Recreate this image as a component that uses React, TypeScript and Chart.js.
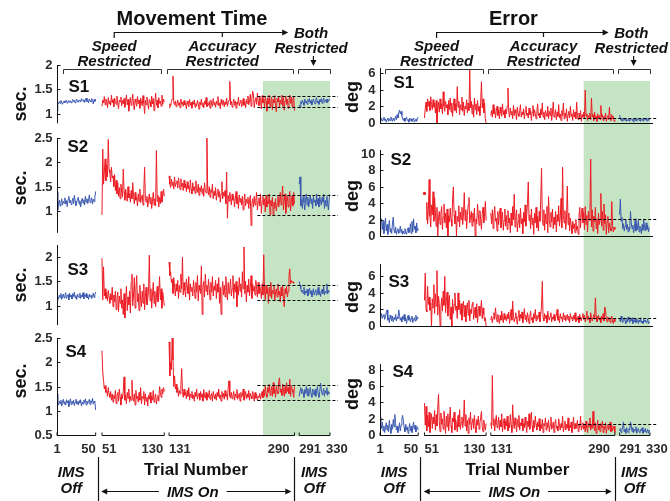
import React, { useEffect, useRef } from "react";
import { Chart, registerables } from "chart.js";

Chart.register(...registerables);

const FONT = '"Liberation Sans", Arial, Helvetica, sans-serif';
const INK = "#111111";
const TICK_INK = "#2b2b2b";
const RED = "#ec1c24";
const BLUE = "#3a58b0";
const SHADE = "#c4e4c3";
const FIG_W = 670;
const FIG_H = 501;

// Trial blocks: IMS off, speed restricted, accuracy restricted, IMS off again
const BLOCK_FIRST = [1, 51, 131, 291];
const BLOCK_LAST = [50, 130, 290, 330];
const BLOCK_SHIFT = [0, 7, 12, 17]; // gap left before each block on the x axis
const BLOCK_COLOR = [BLUE, RED, RED, BLUE];
const X_MIN = 1;
const X_MAX = 347;
const SHADE_FROM_TRIAL = 250;

const X_TICKS = [1, 50, 51, 130, 131, 290, 291, 330];
const X_TICK_ALIGN = ["center", "right", "left", "right", "left", "right", "left", "left"];
const X_TICK_NUDGE = [0, 0, 0, -1, 0, -5, 0, -4];

// ---- Movement time (sec.) per subject, one list per trial block ----
const mtS1 = [
  [1.05,1.22,1.20,1.25,1.21,1.27,1.23,1.19,1.24,1.26,
   1.22,1.25,1.28,1.21,1.24,1.27,1.23,1.26,1.22,1.25,
   1.29,1.24,1.27,1.22,1.26,1.30,1.25,1.23,1.28,1.26,
   1.24,1.31,1.27,1.25,1.29,1.23,1.27,1.32,1.25,1.28,
   1.22,1.30,1.26,1.24,1.31,1.27,1.20,1.29,1.25,1.30],
  [1.15,1.28,1.22,1.35,1.18,1.30,1.24,1.12,1.33,1.20,
   1.26,1.17,1.38,1.22,1.29,1.14,1.32,1.25,1.19,1.36,
   1.21,1.10,1.28,1.24,1.34,1.16,1.27,1.20,1.31,1.13,
   1.25,1.38,1.18,1.29,1.05,1.22,1.33,1.17,1.26,1.40,
   1.19,1.08,1.30,1.23,1.15,1.35,1.20,1.28,1.11,1.32,
   1.24,1.16,1.37,1.21,1.00,1.27,1.18,1.34,1.22,1.09,
   1.29,1.25,1.14,1.36,1.20,1.31,1.06,1.23,1.42,1.17,
   1.28,1.12,1.33,1.21,1.26,1.15,1.38,1.19,1.30,1.24],
  [1.12,1.20,1.15,1.25,1.30,1.77,1.22,1.18,1.26,1.14,
   1.21,1.28,1.17,1.23,1.12,1.30,1.19,1.24,1.15,1.27,
   1.18,1.22,1.10,1.26,1.20,1.14,1.29,1.17,1.23,1.11,
   1.25,1.19,1.28,1.13,1.21,1.16,1.27,1.20,1.09,1.24,
   1.18,1.30,1.15,1.22,1.12,1.26,1.19,1.33,1.14,1.21,
   1.17,1.25,1.11,1.28,1.20,1.15,1.31,1.18,1.23,1.13,
   1.26,1.19,1.35,1.16,1.22,1.10,1.29,1.21,1.17,1.27,
   1.14,1.24,1.19,1.32,1.15,1.22,1.28,1.66,1.18,1.25,
   1.13,1.21,1.30,1.17,1.26,1.11,1.24,1.19,1.34,1.16,
   1.23,1.28,1.14,1.20,1.31,1.17,1.25,1.12,1.29,1.21,
   1.36,1.18,1.26,1.40,1.15,1.30,1.46,1.38,1.12,1.27,
   1.33,1.19,1.42,1.24,1.16,1.35,1.28,1.10,1.37,1.22,
   1.30,1.14,1.36,1.25,1.05,1.32,1.20,1.38,1.13,1.27,
   1.34,1.08,1.29,1.22,1.37,1.16,1.04,1.31,1.24,1.35,
   1.12,1.28,1.20,1.38,1.15,1.33,1.07,1.26,1.36,1.19,
   1.30,1.11,1.27,1.38,1.21,1.34,1.14,1.29,1.35,1.06],
  [1.18,1.12,1.25,1.20,1.28,1.23,1.17,1.30,1.22,1.26,
   1.19,1.29,1.24,1.31,1.21,1.27,1.18,1.25,1.30,1.23,
   1.20,1.28,1.33,1.22,1.26,1.19,1.29,1.24,1.31,1.21,
   1.27,1.32,1.23,1.26,1.29,1.22,1.30,1.25,1.28,1.31],
];

const mtS2 = [
  [1.39,1.02,1.15,1.22,1.10,1.18,1.25,1.12,1.20,1.16,
   1.27,1.14,1.21,1.09,1.24,1.30,1.17,1.22,1.13,1.19,
   1.26,1.15,1.32,1.20,1.11,1.18,1.24,1.28,1.14,1.21,
   1.08,1.19,1.26,1.16,1.23,1.12,1.30,1.18,1.25,1.15,
   1.22,1.33,1.17,1.20,1.27,1.14,1.24,1.19,1.28,1.40],
  [0.92,2.27,1.55,1.80,2.07,1.62,1.95,1.70,2.47,1.85,
   1.78,1.60,1.90,1.68,1.72,1.50,1.75,1.42,1.63,1.35,
   1.58,1.30,1.48,1.25,1.55,1.38,1.28,1.86,1.40,1.22,
   1.45,1.32,1.20,1.50,1.27,1.36,1.18,1.42,1.25,1.58,
   1.30,1.15,1.38,1.22,1.28,1.10,1.35,1.20,1.45,1.17,
   1.26,1.33,1.12,1.40,1.90,1.25,1.18,1.30,1.08,1.22,
   1.35,1.15,1.28,1.05,1.20,1.38,1.12,1.25,1.10,2.24,
   1.20,1.32,1.08,1.28,1.15,1.40,1.18,1.30,1.45,1.30],
  [1.72,1.55,1.48,1.65,1.52,1.60,1.45,1.70,1.50,1.58,
   1.62,1.47,1.68,1.53,1.44,1.66,1.50,1.57,1.42,1.63,
   1.48,1.55,1.40,1.60,1.46,1.52,1.38,1.64,1.45,1.35,
   1.58,1.42,1.50,1.36,1.62,1.44,1.38,1.55,1.32,1.48,
   1.40,1.52,1.35,1.46,1.30,1.58,1.42,1.37,2.50,1.45,
   1.33,1.50,1.28,1.44,1.38,1.55,1.25,1.40,1.32,1.48,
   1.22,1.36,1.45,1.28,1.40,1.18,1.35,1.60,1.25,1.38,
   1.30,1.42,1.15,1.80,0.85,1.32,1.20,1.38,1.26,1.12,
   1.35,1.22,1.30,1.08,1.25,1.40,1.15,1.28,1.05,1.33,
   1.18,1.26,1.12,1.30,1.02,1.22,1.35,1.10,1.24,1.16,
   1.28,1.05,1.20,1.32,0.70,1.15,1.25,1.08,1.30,1.12,
   1.22,1.38,1.02,1.18,1.27,1.10,1.35,0.95,1.20,1.30,
   1.12,1.25,0.98,1.32,1.08,1.20,1.15,1.35,0.92,1.22,
   1.10,1.28,0.90,1.18,1.05,1.25,1.00,1.15,1.30,1.08,
   1.20,1.38,1.12,1.28,1.51,1.02,1.22,1.35,0.95,1.18,
   1.30,1.08,1.25,1.40,1.00,1.20,1.32,1.10,1.38,1.15],
  [1.55,1.70,1.10,1.25,1.05,1.30,1.18,1.02,1.22,1.35,
   1.12,1.28,1.08,1.20,1.32,1.15,1.25,1.05,1.30,1.18,
   1.22,1.10,1.35,1.14,1.26,1.08,1.30,1.20,1.12,1.28,
   1.18,1.34,1.05,1.22,1.10,1.30,1.15,1.02,1.25,1.35],
];

const mtS3 = [
  [1.10,1.18,1.14,1.22,1.17,1.25,1.13,1.20,1.24,1.16,
   1.21,1.27,1.15,1.19,1.23,1.12,1.26,1.18,1.22,1.14,
   1.25,1.19,1.28,1.16,1.21,1.13,1.24,1.20,1.17,1.26,
   1.15,1.22,1.18,1.27,1.14,1.23,1.19,1.25,1.16,1.21,
   1.13,1.24,1.18,1.22,1.15,1.20,1.26,1.17,1.23,1.28],
  [1.98,1.12,1.80,1.20,1.35,1.15,1.28,1.10,1.32,1.18,
   1.05,1.25,1.12,1.38,0.98,1.22,1.08,1.30,0.92,1.15,
   1.28,0.88,1.20,1.05,1.35,0.95,1.12,0.82,1.25,0.75,
   1.10,1.40,0.90,1.18,1.02,1.30,0.85,1.48,1.65,1.00,
   1.22,1.58,0.95,1.35,1.62,1.08,1.25,0.90,1.42,1.12,
   0.98,1.30,1.05,1.45,0.92,1.20,1.38,1.02,1.15,1.28,
   2.04,1.10,1.35,0.95,1.22,1.48,1.05,1.30,0.98,1.18,
   1.40,1.08,1.25,1.60,1.12,1.35,0.95,1.28,1.15,1.00],
  [1.90,1.62,1.70,1.48,1.55,1.25,1.58,1.38,1.20,1.45,
   1.30,1.52,1.15,1.42,1.28,1.65,1.35,2.00,1.22,1.48,
   1.32,1.18,1.55,1.40,1.25,1.60,1.12,1.45,1.30,1.38,
   1.20,1.52,1.35,1.15,1.48,1.28,1.62,1.10,1.42,1.33,
   1.25,1.82,0.82,1.38,1.50,1.18,1.65,1.30,1.42,1.22,
   1.55,1.35,1.12,1.48,1.28,1.60,1.20,1.40,1.32,1.52,
   1.15,1.45,1.28,1.58,1.05,1.38,0.82,1.30,1.50,1.22,
   1.42,1.18,1.60,1.32,1.12,1.48,1.25,1.38,1.55,1.20,
   1.35,1.62,1.15,1.45,1.28,1.50,0.98,1.40,1.22,1.58,
   1.30,1.45,1.18,1.70,1.35,2.21,1.25,1.50,1.08,1.42,
   1.28,1.55,1.20,1.38,1.62,1.15,1.45,1.30,1.40,1.22,
   1.52,1.35,1.18,1.48,1.25,1.40,1.32,1.15,1.45,1.22,
   2.05,1.30,1.12,1.42,1.25,1.35,1.05,1.38,1.20,1.48,
   1.15,1.32,1.25,1.40,1.10,1.28,1.35,1.18,1.45,1.22,
   1.30,1.08,1.38,1.20,1.42,1.15,0.98,1.35,1.25,1.40,
   1.18,1.30,1.62,1.76,1.45,1.52,1.48,1.50,1.46,1.48],
  [1.50,1.42,1.35,1.28,1.32,1.25,1.38,1.22,1.30,1.26,
   1.34,1.20,1.28,1.36,1.24,1.31,1.18,1.27,1.35,1.22,
   1.29,1.33,1.21,1.26,1.38,1.23,1.30,1.19,1.28,1.34,
   1.25,1.40,1.22,1.30,1.27,1.45,1.24,1.32,1.28,1.30],
];

const mtS4 = [
  [1.35,1.18,1.12,1.20,1.15,1.22,1.10,1.18,1.24,1.14,
   1.19,1.12,1.23,1.16,1.21,1.09,1.17,1.25,1.13,1.20,
   1.15,1.22,1.11,1.18,1.24,1.14,1.19,1.12,1.21,1.16,
   1.23,1.10,1.18,1.14,1.22,1.17,1.25,1.12,1.20,1.15,
   1.19,1.24,1.13,1.21,1.17,1.26,1.14,1.20,1.18,1.02],
  [2.24,1.80,1.62,1.45,1.52,1.38,1.42,1.30,1.48,1.35,
   1.28,1.40,1.22,1.35,1.18,1.32,1.25,1.42,1.15,1.30,
   1.38,1.20,1.45,1.28,1.12,1.35,1.25,1.40,1.70,1.22,
   1.32,1.15,1.38,1.26,1.45,1.18,1.30,1.22,1.63,1.28,
   1.20,1.35,1.12,1.42,1.25,1.30,1.18,1.38,1.22,1.48,
   1.15,1.30,1.25,1.40,1.12,1.35,1.20,1.28,1.10,1.32,
   1.24,1.38,1.16,1.30,1.22,1.42,1.18,1.28,1.35,1.14,
   1.25,1.32,1.20,1.50,1.38,1.28,1.45,1.35,1.48,1.40],
  [2.42,1.72,2.00,1.85,2.50,2.05,1.50,1.72,1.45,1.55,
   1.38,1.48,1.30,1.42,1.35,1.52,1.87,1.40,1.28,1.45,
   1.32,1.38,1.25,1.42,1.30,1.48,1.22,1.35,1.28,1.40,
   1.25,1.33,1.20,1.38,1.30,1.45,1.24,1.32,1.36,1.22,
   1.40,1.28,1.35,1.20,1.44,1.30,1.26,1.38,1.22,1.34,
   1.28,1.42,1.24,1.32,1.36,1.20,1.40,1.30,1.25,1.35,
   1.22,1.38,1.30,1.45,1.26,1.33,1.20,1.40,1.28,1.36,
   1.24,1.42,1.30,1.35,1.22,1.48,1.62,1.30,1.26,1.38,
   1.25,1.32,1.40,1.22,1.35,1.28,1.44,1.24,1.30,1.36,
   1.20,1.38,1.28,1.33,1.45,1.22,1.30,1.40,1.25,1.35,
   1.28,1.42,1.22,1.36,1.30,1.25,1.40,1.32,1.20,1.38,
   1.26,1.34,1.22,1.30,1.28,1.36,1.24,1.32,1.40,1.27,
   1.45,1.30,1.52,1.35,1.28,1.48,1.38,1.55,1.32,1.42,
   1.50,1.30,1.58,1.36,1.45,1.28,1.52,1.40,1.35,1.60,
   1.68,1.38,1.45,1.32,1.55,1.42,1.30,1.50,1.36,1.58,
   1.40,1.48,1.35,1.65,1.30,1.52,1.44,1.38,1.28,1.50],
  [1.30,1.42,1.48,1.35,1.45,1.38,1.28,1.44,1.36,1.50,
   1.32,1.46,1.30,1.40,1.48,1.34,1.28,1.45,1.38,1.32,
   1.44,1.30,1.42,1.50,1.35,1.28,1.40,1.57,1.45,1.33,
   1.38,1.46,1.30,1.42,1.36,1.48,1.32,1.40,1.35,1.38],
];

// ---- Pointing error (deg) per subject, one list per trial block ----
const errS1 = [
  [0.5,0.3,0.6,0.2,0.4,0.7,0.3,0.5,0.1,0.4,
   0.6,0.2,0.5,0.3,0.7,0.4,0.2,0.6,0.3,0.5,
   0.8,0.4,1.0,0.6,1.2,1.55,1.1,1.4,0.9,0.5,
   0.3,0.6,0.2,0.5,0.7,0.3,0.4,0.1,0.6,0.3,
   0.5,0.2,0.4,0.6,0.1,0.3,0.5,0.2,0.6,0.7],
  [0.6,1.8,2.5,1.4,2.9,2.0,2.6,1.5,3.15,2.2,
   1.6,2.8,1.9,2.4,1.2,2.7,0.0,1.8,2.5,1.3,
   2.9,1.7,2.3,1.1,3.75,2.0,1.4,2.6,1.8,2.2,
   1.0,2.7,1.6,3.0,1.3,2.4,0.8,2.1,2.9,1.5,
   2.3,1.2,4.35,1.9,2.6,1.0,2.2,1.6,3.1,1.4,
   2.5,0.9,2.0,1.7,2.8,1.2,2.4,1.5,6.35,1.8,
   2.6,1.1,2.2,0.7,3.0,1.6,2.3,1.0,2.7,1.4,
   2.0,0.9,2.5,4.95,1.8,2.9,1.2,2.4,0.5,0.0],
  [0.9,1.5,0.7,2.2,1.1,1.8,0.6,1.4,2.0,0.9,
   1.6,0.5,1.9,1.2,0.8,2.3,1.0,1.5,0.6,1.7,
   1.1,2.0,4.2,1.3,0.7,1.8,1.0,1.4,0.5,2.1,
   0.9,1.6,1.2,0.4,1.9,1.1,0.8,1.5,2.2,0.7,
   1.3,1.0,1.7,0.5,1.4,2.0,0.9,1.2,0.6,1.8,
   1.0,1.5,0.3,1.3,2.1,0.8,1.6,1.1,0.5,1.4,
   2.3,0.9,1.2,0.6,1.7,1.0,2.4,0.7,1.3,0.4,
   1.5,1.1,0.8,2.0,0.5,1.4,0.9,1.8,0.3,1.2,
   2.5,0.7,1.0,1.6,0.4,1.3,0.8,2.2,0.6,1.1,
   0.3,1.5,0.9,2.4,0.5,1.2,0.7,1.7,0.2,1.0,
   1.4,0.6,2.0,0.8,1.1,0.3,1.6,0.7,1.3,0.5,
   2.5,0.9,0.4,1.2,0.6,1.5,0.2,1.0,0.7,1.3,
   0.5,3.95,0.8,1.1,0.3,0.9,0.6,1.2,0.4,3.0,
   0.7,1.0,0.3,1.3,0.5,0.8,0.2,1.1,0.6,0.9,
   0.4,2.1,0.7,1.0,0.3,0.8,0.5,1.2,0.2,0.6,
   0.9,0.4,1.9,0.6,0.3,1.0,0.5,0.8,0.2,0.4],
  [0.95,0.5,0.3,0.6,0.2,0.4,0.5,0.3,0.6,0.2,
   0.4,0.3,0.5,0.2,0.6,0.4,0.3,0.5,0.1,0.4,
   0.6,0.3,0.2,0.5,0.4,0.3,0.6,0.2,0.4,0.5,
   0.3,0.2,0.5,0.4,0.6,0.3,0.2,0.4,0.5,0.3],
];

const errS2: (number | null)[][] = [
  [0.4,1.5,2.1,0.8,1.8,0.3,1.2,2.2,0.6,1.4,
   0.2,1.0,1.9,0.5,0.9,0.3,1.6,2.3,0.7,0.4,
   1.1,0.2,0.6,0.9,0.3,0.5,1.2,0.4,0.8,0.2,
   0.6,0.3,0.9,0.5,0.2,0.7,1.0,0.4,0.6,1.5,
   0.3,1.8,0.5,2.1,0.8,1.2,0.4,1.6,0.6,0.9],
  [5.2,null,2.0,4.1,1.5,3.2,6.9,2.4,1.1,3.8,
   2.6,5.4,1.8,4.7,2.9,1.2,3.5,0.0,2.2,3.0,
   1.4,2.7,3.6,0.8,2.3,3.9,1.6,2.8,1.0,3.3,
   0.0,2.5,1.7,3.4,2.0,1.2,4.4,6.0,2.6,1.5,
   3.1,0.0,2.4,1.8,3.7,1.1,2.9,2.0,3.5,1.4,
   2.7,5.3,1.9,3.2,0.9,2.5,3.8,4.7,1.6,2.3,
   3.0,1.2,2.8,1.7,3.4,0.0,2.1,1.5,3.9,2.6,
   1.3,3.1,2.0,0.8,2.7,3.5,1.6,2.4,4.2,1.9],
  [2.8,1.5,3.2,0.9,2.4,3.6,1.8,2.2,0.6,3.0,
   1.4,2.6,3.4,1.0,2.0,2.9,0.7,1.9,3.3,1.2,
   2.5,0.8,3.1,1.6,2.2,0.4,2.8,1.3,3.6,2.0,
   5.1,1.1,2.4,3.2,0.5,1.8,2.7,1.0,3.4,1.5,
   2.1,0.3,2.9,1.7,3.8,1.2,2.5,4.0,6.6,1.9,
   2.6,0.9,3.3,1.4,2.2,0.2,2.8,1.6,3.5,1.0,
   2.4,0.6,3.0,1.8,4.5,8.3,2.1,1.3,3.2,0.7,
   2.7,1.5,3.6,0.4,4.8,2.0,1.1,2.9,1.7,3.3,
   0.9,2.3,1.4,3.0,0.5,2.6,1.8,3.7,1.2,2.2,
   4.6,1.0,8.4,2.5,1.6,3.1,0.8,2.0,6.1,1.4,
   2.8,0.6,2.2,1.3,0.3,1.8,0.9,1.5,0.4,2.0,
   0.7,1.2,0.2,2.4,3.5,1.0,2.8,3.4,1.6,2.9,
   0.8,3.6,1.4,2.5,0.5,3.0,1.9,2.2,9.4,1.1,
   3.2,0.6,2.4,1.7,3.5,0.9,2.1,0.3,2.8,1.4,
   2.0,5.2,1.2,3.0,0.7,3.9,1.5,2.6,0.2,1.8,
   2.4,0.4,1.6,1.0,0.6,4.2,1.3,0.5,1.1,0.8],
  [2.6,4.5,1.8,2.3,0.9,1.5,0.6,1.2,2.0,0.8,
   1.4,0.5,1.1,0.7,3.0,1.6,0.9,1.3,0.4,1.0,
   2.1,0.6,1.5,0.8,1.9,0.5,1.2,0.9,0.3,1.4,
   0.7,2.0,1.1,0.6,1.6,0.8,1.3,0.5,1.0,0.9],
];

const errS3 = [
  [1.3,1.1,1.5,0.9,1.2,1.4,0.8,1.1,1.6,1.95,
   0.7,1.0,0.4,1.3,0.9,0.6,1.2,0.5,1.0,0.8,
   1.4,0.6,1.1,0.9,1.95,1.3,0.7,1.0,0.5,1.2,
   0.8,1.4,0.6,1.0,0.3,0.9,1.3,0.7,1.1,0.5,
   0.9,1.2,0.4,0.8,1.0,0.6,1.3,0.7,1.1,0.9],
  [3.1,6.4,2.0,1.7,4.8,2.6,3.5,1.9,2.8,0.0,
   3.3,2.2,5.0,1.5,3.9,2.4,6.7,1.3,3.6,2.7,
   0.0,2.1,3.4,1.8,4.2,2.5,6.0,1.6,3.0,4.1,
   1.2,2.9,3.7,0.8,2.3,0.0,3.2,1.5,2.6,4.0,
   1.9,2.4,0.9,4.0,2.0,3.1,1.4,2.7,0.7,2.2,
   3.0,1.1,2.5,0.5,1.9,2.8,1.3,3.1,0.6,2.0,
   1.5,2.6,2.9,0.8,1.7,2.3,1.0,2.7,0.4,1.8,
   2.4,1.2,2.0,3.1,0.9,2.2,1.4,0.6,1.0,0.0],
  [0.7,1.2,0.4,1.0,1.6,0.8,2.2,1.1,0.5,1.4,
   0.9,0.3,1.3,0.7,1.8,1.0,0.4,1.5,0.8,1.2,
   0.6,1.4,0.9,1.7,0.3,1.1,2.0,0.7,3.0,1.3,
   0.5,1.0,1.6,0.8,0.2,1.2,1.9,0.6,1.4,0.9,
   1.7,0.4,1.1,2.1,0.8,1.3,0.5,1.6,1.0,0.3,
   1.2,1.8,0.7,1.0,0.4,1.5,0.9,2.0,0.6,1.3,
   0.8,1.1,1.7,0.5,1.4,2.4,5.4,1.0,0.6,1.5,
   0.9,1.3,0.4,1.8,1.0,0.7,1.2,1.6,0.5,1.1,
   0.8,1.4,0.6,1.0,1.3,2.0,0.7,1.2,0.4,1.5,
   0.9,1.1,0.5,1.6,0.8,1.3,0.6,1.0,1.4,0.7,
   1.2,0.4,1.5,0.9,1.1,0.6,1.3,0.8,1.6,0.5,
   1.0,0.7,1.2,0.4,1.4,0.9,0.6,1.1,1.5,0.8,
   1.3,0.5,1.0,1.8,0.7,1.2,0.9,0.4,1.6,1.0,
   0.6,1.1,1.4,0.8,3.4,1.2,0.5,0.9,1.3,0.7,
   1.0,0.4,1.2,0.8,1.5,0.6,2.3,1.9,0.9,0.5,
   1.1,0.7,1.0,0.4,0.8,1.2,0.6,0.3,0.9,0.5],
  [0.9,0.5,1.2,0.7,0.4,0.8,1.0,0.6,0.3,0.9,
   0.5,1.1,0.7,0.4,0.8,0.6,1.0,0.3,0.7,0.5,
   0.9,0.4,0.6,0.8,0.3,0.7,0.5,1.0,0.4,0.6,
   0.3,0.8,0.5,0.7,0.4,0.6,0.9,0.3,0.5,0.4],
];

const errS4 = [
  [2.2,1.4,0.8,1.6,0.5,1.1,0.3,0.9,1.5,0.6,
   1.2,0.4,1.8,0.9,0.2,1.3,0.7,1.9,1.0,2.5,
   1.4,0.6,1.1,0.3,0.8,1.5,0.5,1.2,2.0,2.4,
   1.7,0.9,0.4,1.3,0.6,1.0,0.2,0.8,1.4,0.5,
   1.1,0.3,0.9,1.6,0.7,1.2,0.4,0.8,1.0,0.6],
  [3.9,1.2,3.5,0.5,2.4,1.0,2.8,0.3,1.9,2.6,
   0.8,2.2,1.4,3.0,0.6,2.5,1.1,3.2,5.0,1.6,
   0.4,2.7,1.3,2.0,0.7,2.9,1.5,0.2,2.3,1.0,
   2.6,0.5,1.8,3.4,1.2,0.3,2.1,1.6,2.8,0.6,
   1.9,1.3,0.4,2.4,1.0,3.1,0.7,1.5,2.2,0.9,
   1.7,4.3,1.1,2.5,0.5,1.8,0.2,2.1,1.3,2.8,
   0.6,1.6,2.0,0.8,2.4,1.0,0.3,1.9,1.2,2.3,
   0.7,1.5,2.1,2.9,1.0,0.4,1.8,1.2,0.6,1.4],
  [1.5,0.8,7.3,1.2,2.0,0.5,1.6,2.4,0.9,1.3,
   2.2,0.6,1.8,1.0,2.6,0.4,1.4,2.0,0.7,1.7,
   1.1,2.3,0.5,1.5,0.9,2.5,1.2,0.3,3.7,1.6,
   0.8,2.1,1.3,0.4,1.9,1.0,2.4,0.6,1.5,1.1,
   2.0,0.5,1.4,0.9,2.2,1.2,0.3,1.7,1.0,2.6,
   0.7,1.5,2.8,1.1,0.4,1.8,0.9,2.3,1.3,0.6,
   1.6,1.0,2.0,0.5,1.3,0.8,1.9,0.3,1.4,1.1,
   2.1,0.6,1.5,0.9,1.8,0.4,1.2,2.2,0.7,1.0,
   1.6,0.3,1.3,1.9,0.8,1.1,0.5,2.0,1.2,0.6,
   1.4,0.9,2.3,0.4,1.0,1.7,0.6,1.3,0.8,2.1,
   0.5,1.2,0.9,1.6,0.3,1.0,2.2,0.7,1.4,0.8,
   1.1,1.8,0.4,1.3,0.9,2.3,0.6,1.0,1.5,0.7,
   1.2,0.4,1.7,0.9,0.3,1.4,1.0,2.1,0.6,1.3,
   0.8,2.9,1.1,0.5,1.5,0.2,1.0,1.8,0.6,1.2,
   0.4,1.4,0.9,1.7,0.3,1.1,0.7,1.5,0.2,1.0,
   1.3,0.6,0.9,1.6,0.4,1.2,0.5,0.8,1.1,0.3],
  [0.5,0.8,0.3,0.6,1.0,1.6,0.4,0.7,0.2,0.9,
   0.5,0.3,0.8,0.6,1.6,1.2,0.4,0.9,0.3,0.7,
   0.5,1.0,0.2,0.6,0.8,0.4,0.3,0.7,0.5,0.9,
   0.2,0.6,0.4,0.8,0.3,0.5,0.7,0.2,0.6,0.4],
];

// Reference levels (dashed) for the final blocks
const mtLimits = [[1.14, 1.36], [0.92, 1.335], [1.11, 1.42], [1.23, 1.54]];
const errLimits = [[0.56], [2.1], [1.0], [1.38]];

// Axis ranges and tick values per subject
const mtRanges = [[0.8, 2], [0.55, 2.5], [0.6, 2.25], [0.5, 2.5]];
const mtTicks = [[1, 1.5, 2], [1, 1.5, 2, 2.5], [1, 1.5, 2], [0.5, 1, 1.5, 2, 2.5]];
const errRanges = [[0, 6.6], [0, 10.5], [0, 7.5], [0, 8.7]];
const errTicks = [[0, 2, 4, 6], [0, 2, 4, 6, 8, 10], [0, 2, 4, 6], [0, 2, 4, 6, 8]];
const subjects = ["S1", "S2", "S3", "S4"];

// ---- Layout (page pixels) ----
const AREA_TOP = 60;
const AREA_BOTTOM = 440;
const MT_BANDS = [[65, 123.3], [138, 232.8], [245, 325.2], [338, 435.2]];
const ERR_BANDS = [[68, 123], [150, 236], [264, 326], [364, 435]];
const MT_NAME_AT = [[11, 92], [10, 152], [10, 275], [8, 357]];
const ERR_NAME_AT = [[13, 88], [10, 165], [8, 287], [12, 377]];
const MT_UNIT_Y = [104, 188, 285, 381];
const ERR_UNIT_Y = [97, 196, 297, 394];
const SHADE_TOP = 81;

// Header / footer anchors in x-axis units
const TITLE_X = 172;
const SPEED_X = 73.5;
const ACCURACY_X = 210.5;
const BOTH_X = 323;
const DOWN_X = 326;
const ARROW_END_X = 294;
const BRACKETS = [[8, 133], [140, 300], [306, 347]];
const DASH_FROM_X = 255;
const DASH_TO_X = 357;
const TRIAL_X = 177;
const IMS_OFF_X = [19, 327];
const DIVIDER_X = [52.7, 302];
const IMS_ON_X = 173;
const IMS_ON_ARROW = [57, 298];

function xPos(trial: number) {
  let b = 0;
  for (let i = 0; i < BLOCK_FIRST.length; i++) if (trial >= BLOCK_FIRST[i]) b = i;
  return trial + BLOCK_SHIFT[b];
}

type Panel = {
  name: string;
  blocks: (number | null)[][];
  range: number[];
  ticks: number[];
  band: number[];
  limits: number[];
  nameAt: number[];
  unitY: number;
};

type Column = {
  title: string;
  unit: string;
  left: number;
  width: number;
  axisLeft: number;
  axisRight: number;
  unitX: number;
  zeroLine: boolean;
  panels: Panel[];
};

const COLUMNS: Column[] = [
  {
    title: "Movement Time", unit: "sec.", left: 0, width: 352, axisLeft: 57, axisRight: 330,
    unitX: 21, zeroLine: false,
    panels: [mtS1, mtS2, mtS3, mtS4].map((blocks, i) => ({
      name: subjects[i], blocks, range: mtRanges[i], ticks: mtTicks[i], band: MT_BANDS[i],
      limits: mtLimits[i], nameAt: MT_NAME_AT[i], unitY: MT_UNIT_Y[i],
    })),
  },
  {
    title: "Error", unit: "deg", left: 340, width: 330, axisLeft: 40, axisRight: 310,
    unitX: 13, zeroLine: true,
    panels: [errS1, errS2, errS3, errS4].map((blocks, i) => ({
      name: subjects[i], blocks, range: errRanges[i], ticks: errTicks[i], band: ERR_BANDS[i],
      limits: errLimits[i], nameAt: ERR_NAME_AT[i], unitY: ERR_UNIT_Y[i],
    })),
  },
];

function text(ctx: CanvasRenderingContext2D, s: string, x: number, y: number, font: string,
  align: CanvasTextAlign = "center", baseline: CanvasTextBaseline = "alphabetic", color = INK) {
  ctx.font = font;
  ctx.textAlign = align;
  ctx.textBaseline = baseline;
  ctx.fillStyle = color;
  ctx.fillText(s, x, y);
}

function seg(ctx: CanvasRenderingContext2D, x0: number, y0: number, x1: number, y1: number) {
  ctx.beginPath();
  ctx.moveTo(x0, y0);
  ctx.lineTo(x1, y1);
  ctx.stroke();
}

function head(ctx: CanvasRenderingContext2D, x: number, y: number, dir: "left" | "right" | "down") {
  const L = 6, W = 3;
  ctx.beginPath();
  if (dir === "right") { ctx.moveTo(x, y); ctx.lineTo(x - L, y - W); ctx.lineTo(x - L, y + W); }
  if (dir === "left") { ctx.moveTo(x, y); ctx.lineTo(x + L, y - W); ctx.lineTo(x + L, y + W); }
  if (dir === "down") { ctx.moveTo(x, y); ctx.lineTo(x - W, y - L); ctx.lineTo(x + W, y - L); }
  ctx.closePath();
  ctx.fill();
}

function columnPlugin(col: Column) {
  return {
    id: "panelDecor",
    beforeDatasetsDraw(chart: any) {
      const ctx: CanvasRenderingContext2D = chart.ctx;
      const xs = chart.scales.x;
      const last = col.panels[col.panels.length - 1];
      const x0 = xs.getPixelForValue(xPos(SHADE_FROM_TRIAL));
      const x1 = xs.getPixelForValue(X_MAX);
      ctx.save();
      ctx.fillStyle = SHADE;
      ctx.fillRect(x0, SHADE_TOP, x1 - x0, last.band[1] + 1 - SHADE_TOP);
      ctx.restore();
    },
    afterDatasetsDraw(chart: any) {
      const ctx: CanvasRenderingContext2D = chart.ctx;
      const xs = chart.scales.x;
      const px = (v: number) => xs.getPixelForValue(v);
      const axisX = Math.round(chart.chartArea.left) + 0.5;
      ctx.save();

      // dashed reference levels
      ctx.strokeStyle = "#000";
      ctx.lineWidth = 1;
      ctx.setLineDash([3, 2]);
      col.panels.forEach((p, i) => {
        const ys = chart.scales["y" + i];
        p.limits.forEach((v) => {
          const y = Math.round(ys.getPixelForValue(v)) + 0.5;
          seg(ctx, px(DASH_FROM_X), y, px(DASH_TO_X), y);
        });
      });
      ctx.setLineDash([]);

      // y axes, ticks and labels
      const tickFont = `bold 13px ${FONT}`;
      col.panels.forEach((p, i) => {
        const ys = chart.scales["y" + i];
        const top = ys.getPixelForValue(p.range[1]);
        const bot = ys.getPixelForValue(p.range[0]);
        ctx.strokeStyle = INK;
        ctx.lineWidth = 1;
        seg(ctx, axisX, top, axisX, bot);
        p.ticks.forEach((t) => {
          const y = Math.round(ys.getPixelForValue(t)) + 0.5;
          seg(ctx, axisX, y, axisX + 3, y);
          text(ctx, String(t), axisX - 5, y, tickFont, "right", "middle", TICK_INK);
        });
        if (col.zeroLine && i < col.panels.length - 1) {
          const y0 = Math.round(ys.getPixelForValue(0)) + 0.5;
          ctx.lineWidth = 1.2;
          seg(ctx, px(X_MIN), y0, px(X_MAX) + 3, y0);
        }
        text(ctx, p.name, axisX + p.nameAt[0], p.nameAt[1], `bold 17px ${FONT}`, "left");
        ctx.save();
        ctx.translate(col.unitX, p.unitY);
        ctx.rotate(-Math.PI / 2);
        text(ctx, col.unit, 0, 0, `bold 18px ${FONT}`, "center", "middle");
        ctx.restore();
      });

      // segmented trial axis under the last panel
      const lastIdx = col.panels.length - 1;
      const yb = Math.round(chart.scales["y" + lastIdx].getPixelForValue(col.panels[lastIdx].range[0])) + 0.5;
      ctx.strokeStyle = INK;
      ctx.lineWidth = 1;
      BLOCK_FIRST.forEach((first, b) => {
        const a = px(xPos(first));
        const e = px(xPos(BLOCK_LAST[b]));
        seg(ctx, a, yb, e, yb);
        seg(ctx, a, yb, a, yb - 3);
        seg(ctx, e, yb, e, yb - 3);
      });
      X_TICKS.forEach((t, k) => {
        text(ctx, String(t), px(xPos(t)) + X_TICK_NUDGE[k], 453, tickFont,
          X_TICK_ALIGN[k] as CanvasTextAlign, "alphabetic", TICK_INK);
      });

      // header: title, phase arrow, phase names, brackets
      text(ctx, col.title, px(TITLE_X), 25, `bold 20px ${FONT}`);
      ctx.strokeStyle = INK;
      ctx.fillStyle = INK;
      ctx.lineWidth = 1.2;
      seg(ctx, px(SPEED_X), 32.5, px(ARROW_END_X) - 5, 32.5);
      seg(ctx, px(SPEED_X), 32, px(SPEED_X), 38);
      seg(ctx, px(ACCURACY_X), 32, px(ACCURACY_X), 37);
      head(ctx, px(ARROW_END_X), 32.5, "right");
      const phaseFont = `italic bold 15px ${FONT}`;
      text(ctx, "Speed", px(SPEED_X), 51, phaseFont);
      text(ctx, "Restricted", px(SPEED_X), 66, phaseFont);
      text(ctx, "Accuracy", px(ACCURACY_X), 51, phaseFont);
      text(ctx, "Restricted", px(ACCURACY_X), 66, phaseFont);
      text(ctx, "Both", px(BOTH_X), 38, phaseFont);
      text(ctx, "Restricted", px(BOTH_X), 53, phaseFont);
      ctx.strokeStyle = INK;
      ctx.fillStyle = INK;
      ctx.lineWidth = 1.2;
      seg(ctx, px(DOWN_X), 56, px(DOWN_X), 62);
      head(ctx, px(DOWN_X), 66, "down");
      ctx.strokeStyle = "#333";
      ctx.lineWidth = 1;
      BRACKETS.forEach(([a, b]) => {
        const xa = Math.round(px(a)) + 0.5;
        const xb = Math.round(px(b)) + 0.5;
        ctx.beginPath();
        ctx.moveTo(xa, 74);
        ctx.lineTo(xa, 69.5);
        ctx.lineTo(xb, 69.5);
        ctx.lineTo(xb, 74);
        ctx.stroke();
      });

      // footer: axis name, IMS state
      text(ctx, "Trial Number", px(TRIAL_X), 475, `bold 17px ${FONT}`);
      IMS_OFF_X.forEach((v) => {
        text(ctx, "IMS", px(v), 477, phaseFont);
        text(ctx, "Off", px(v), 493, phaseFont);
      });
      ctx.strokeStyle = INK;
      ctx.lineWidth = 1.2;
      DIVIDER_X.forEach((v) => {
        const x = Math.round(px(v)) + 0.5;
        seg(ctx, x, 457, x, FIG_H);
      });
      const cx = px(IMS_ON_X);
      ctx.font = phaseFont;
      const w = ctx.measureText("IMS On").width;
      text(ctx, "IMS On", cx, 497, phaseFont);
      ctx.strokeStyle = INK;
      ctx.fillStyle = INK;
      ctx.lineWidth = 1.2;
      const xl = px(IMS_ON_ARROW[0]);
      const xr = px(IMS_ON_ARROW[1]);
      seg(ctx, xl + 4, 491.5, cx - w / 2 - 8, 491.5);
      seg(ctx, cx + w / 2 + 8, 491.5, xr - 4, 491.5);
      head(ctx, xl, 491.5, "left");
      head(ctx, xr, 491.5, "right");

      ctx.restore();
    },
  };
}

function buildConfig(col: Column): any {
  const scales: any = {
    x: { type: "linear", display: false, min: X_MIN, max: X_MAX, bounds: "data" },
  };
  const datasets: any[] = [];
  col.panels.forEach((p, i) => {
    const [lo, hi] = p.range;
    const [top, bot] = p.band;
    const u = (hi - lo) / (bot - top);
    scales["y" + i] = {
      type: "linear", display: false, bounds: "data",
      min: lo - (AREA_BOTTOM - bot) * u,
      max: hi + (top - AREA_TOP) * u,
    };
    p.blocks.forEach((vals, b) => {
      datasets.push({
        label: `${p.name} block ${b + 1}`,
        data: vals.map((v, k) => ({ x: xPos(BLOCK_FIRST[b] + k), y: v })),
        xAxisID: "x",
        yAxisID: "y" + i,
        borderColor: BLOCK_COLOR[b],
        backgroundColor: BLOCK_COLOR[b],
        borderWidth: 1,
        tension: 0,
        spanGaps: false,
        fill: false,
        pointBorderWidth: 0,
        pointRadius: (c: any) => {
          const d = c.dataset.data;
          const k = c.dataIndex;
          const here = d[k] && d[k].y != null;
          const prev = k > 0 && d[k - 1].y != null;
          const next = k < d.length - 1 && d[k + 1].y != null;
          return here && !prev && !next ? 1.6 : 0;
        },
      });
    });
  });
  return {
    type: "line",
    data: { datasets },
    options: {
      animation: false,
      responsive: false,
      devicePixelRatio: 1,
      events: [],
      layout: {
        padding: {
          left: col.axisLeft,
          right: col.width - col.axisRight,
          top: AREA_TOP,
          bottom: FIG_H - AREA_BOTTOM,
        },
      },
      scales,
      plugins: { legend: { display: false }, tooltip: { enabled: false }, title: { display: false } },
    },
    plugins: [columnPlugin(col)],
  };
}

function ColumnChart({ col }: { col: Column }) {
  const ref = useRef<HTMLCanvasElement>(null);
  useEffect(() => {
    const chart = new Chart(ref.current as HTMLCanvasElement, buildConfig(col));
    return () => chart.destroy();
  }, [col]);
  return (
    <canvas
      ref={ref}
      width={col.width}
      height={FIG_H}
      style={{ position: "absolute", left: col.left, top: 0, width: col.width, height: FIG_H }}
    />
  );
}

export default function App() {
  return (
    <div style={{ position: "fixed", left: 0, top: 0, width: FIG_W, height: FIG_H, background: "#fff", overflow: "hidden" }}>
      {COLUMNS.map((c) => (
        <ColumnChart key={c.title} col={c} />
      ))}
    </div>
  );
}
